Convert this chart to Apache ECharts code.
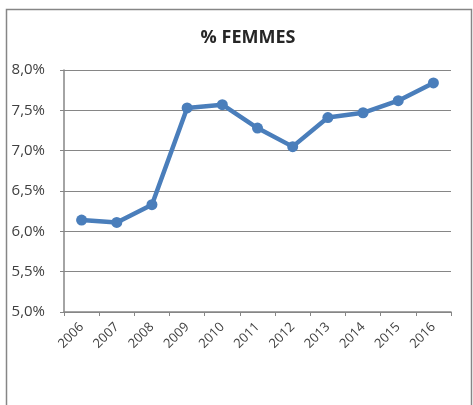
<!DOCTYPE html>
<html>
<head>
<meta charset="utf-8">
<script src="https://cdn.jsdelivr.net/npm/echarts@6/dist/echarts.min.js"></script>
<style>
  html, body { margin: 0; padding: 0; background: #fff; }
  #chart { width: 473px; height: 405px; }
</style>
</head>
<body>
<div id="chart"></div>
<script>
// Data
var years = ["2006", "2007", "2008", "2009", "2010", "2011", "2012", "2013", "2014", "2015", "2016"];
var femmes = [6.14, 6.11, 6.33, 7.53, 7.57, 7.28, 7.05, 7.41, 7.47, 7.62, 7.84];
var yTicks = { min: 5, max: 8, step: 0.5 };

var gray = "#868686";
var labelColor = "#404040";
var fontName = "'Open Sans', 'Noto Sans', sans-serif";

var chart = echarts.init(document.getElementById("chart"));

chart.setOption({
  animation: false,
  title: {
    text: "% FEMMES",
    left: 243,
    top: 24,
    textAlign: "center",
    textStyle: { fontFamily: fontName, fontSize: 18, fontWeight: "bold", color: "#262626" }
  },
  // outer chart border
  graphic: [{
    type: "rect",
    shape: { x: 6.5, y: 9.5, width: 465, height: 420 },
    style: { fill: "none", stroke: gray, lineWidth: 1.5 },
    silent: true
  }],
  grid: { left: 64, right: 22, top: 70, bottom: 93 },
  xAxis: {
    type: "category",
    data: years,
    boundaryGap: true,
    axisLine: { lineStyle: { color: gray, width: 1.5 } },
    axisTick: { show: true, length: 4, alignWithLabel: false, lineStyle: { color: gray } },
    axisLabel: { rotate: 45, margin: 13, fontFamily: fontName, fontSize: 13, color: labelColor }
  },
  yAxis: {
    type: "value",
    min: yTicks.min,
    max: yTicks.max,
    interval: yTicks.step,
    axisLine: { show: true, lineStyle: { color: gray, width: 1.5 } },
    axisTick: { show: true, length: 4, lineStyle: { color: gray } },
    splitLine: { lineStyle: { color: gray, width: 1.2 } },
    axisLabel: {
      margin: 19,
      fontFamily: fontName,
      fontSize: 15,
      color: labelColor,
      formatter: function (v) { return v.toFixed(1).replace(".", ",") + "%"; }
    }
  },
  series: [{
    type: "line",
    data: femmes,
    symbol: "circle",
    symbolSize: 11,
    lineStyle: { color: "#4a7ebb", width: 4.5 },
    itemStyle: { color: "#4a7ebb" }
  }]
});
</script>
</body>
</html>
